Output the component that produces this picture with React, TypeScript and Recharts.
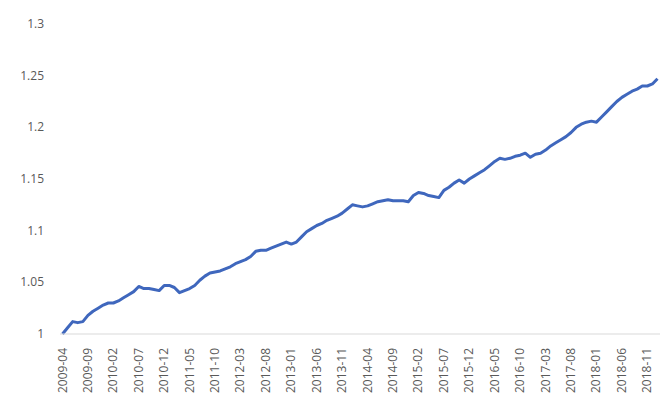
import React from "react";
import { LineChart, Line, XAxis, YAxis } from "recharts";

const startYear = 2009;
const startMonth = 4;

const values: number[] = [
  1.000, 1.006, 1.012, 1.011, 1.012, 1.018, 1.022, 1.025, 1.028, 1.030,
  1.030, 1.032, 1.035, 1.038, 1.041, 1.046, 1.044, 1.044, 1.043, 1.042,
  1.047, 1.047, 1.045, 1.040, 1.042, 1.044, 1.047, 1.052, 1.056, 1.059,
  1.060, 1.061, 1.063, 1.065, 1.068, 1.070, 1.072, 1.075, 1.080, 1.081,
  1.081, 1.083, 1.085, 1.087, 1.089, 1.087, 1.089, 1.094, 1.099, 1.102,
  1.105, 1.107, 1.110, 1.112, 1.114, 1.117, 1.121, 1.125, 1.124, 1.123,
  1.124, 1.126, 1.128, 1.129, 1.130, 1.129, 1.129, 1.129, 1.128, 1.134,
  1.137, 1.136, 1.134, 1.133, 1.132, 1.139, 1.142, 1.146, 1.149, 1.146,
  1.150, 1.153, 1.156, 1.159, 1.163, 1.167, 1.170, 1.169, 1.170, 1.172,
  1.173, 1.175, 1.171, 1.174, 1.175, 1.178, 1.182, 1.185, 1.188, 1.191,
  1.195, 1.200, 1.203, 1.205, 1.206, 1.205, 1.210, 1.215, 1.220, 1.225,
  1.229, 1.232, 1.235, 1.237, 1.240, 1.240, 1.242, 1.247,
];

const months: string[] = values.map((_, i) => {
  const m0 = startMonth - 1 + i;
  const y = startYear + Math.floor(m0 / 12);
  const m = (m0 % 12) + 1;
  return `${y}-${m < 10 ? "0" + m : m}`;
});

const yTicks = [1, 1.05, 1.1, 1.15, 1.2, 1.25, 1.3];

const data = months.map((month, i) => ({ month, value: values[i] }));

const FONT = "'Open Sans', 'Liberation Sans', sans-serif";

const XTick = (props: any) => {
  const { x, y, payload } = props;
  return (
    <text
      x={0}
      y={0}
      transform={`translate(${x + 4},${y + 6}) rotate(-90)`}
      textAnchor="end"
      fontSize={12}
      fontFamily={FONT}
      fill="#595959"
    >
      {payload.value}
    </text>
  );
};

const YTick = (props: any) => {
  const { x, y, payload } = props;
  const v = payload.value as number;
  const label = String(Math.round(v * 100) / 100);
  return (
    <text
      x={44}
      y={y + 4}
      textAnchor="end"
      fontSize={12}
      fontFamily={FONT}
      fill="#595959"
    >
      {label}
    </text>
  );
};

export default function App() {
  return (
    <div style={{ position: "absolute", left: 0, top: 0, width: 669, height: 411, background: "#fff" }}>
      <LineChart
        width={669}
        height={411}
        data={data}
        margin={{ top: 24, right: 9, bottom: 7, left: 0 }}
      >
        <XAxis
          dataKey="month"
          interval={4}
          tick={<XTick />}
          tickLine={false}
          axisLine={{ stroke: "#d9d9d9", strokeWidth: 1 }}
          height={70}
          padding={{ left: 2.5, right: 2.5 }}
        />
        <YAxis
          domain={[1, 1.3]}
          ticks={yTicks}
          tick={<YTick />}
          axisLine={false}
          tickLine={false}
          width={60}
        />
        <Line
          type="linear"
          dataKey="value"
          stroke="#3F67BD"
          strokeWidth={3}
          dot={false}
          isAnimationActive={false}
          strokeLinejoin="round"
        />
      </LineChart>
    </div>
  );
}
